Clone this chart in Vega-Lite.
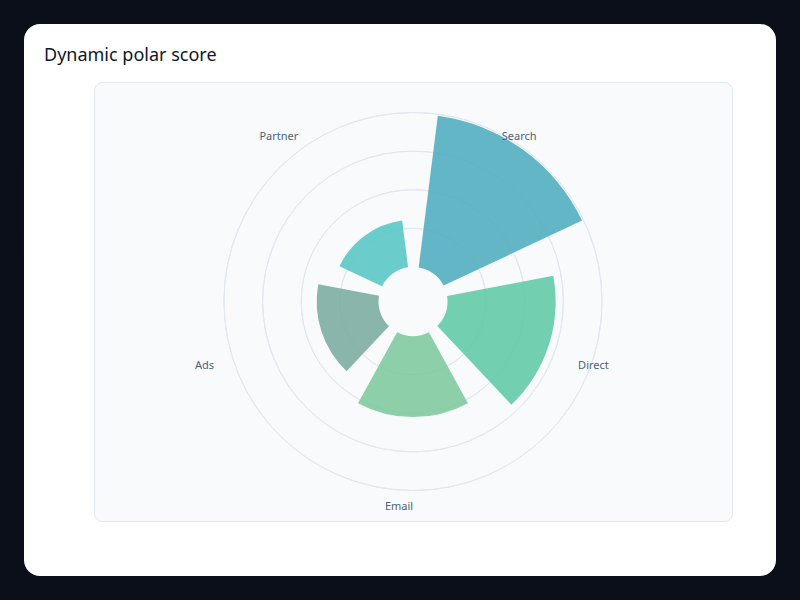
{
  "$schema": "https://vega.github.io/schema/vega-lite/v6.json",
  "background": "#ffffff",
  "autosize": "none",
  "padding": {"left": 94, "top": 82, "right": 68, "bottom": 79},
  "width": 638,
  "height": 439,
  "view": {"fill": "#f8fafc", "stroke": "#e2e8f0", "cornerRadius": 8},
  "config": {"font": "Noto Sans", "legend": {"strokeWidth": 48}},
  "title": {
    "text": "Dynamic polar score",
    "anchor": "start",
    "frame": "group",
    "dx": -50,
    "offset": -98,
    "baseline": "middle",
    "fontSize": 18,
    "fontWeight": "normal",
    "color": "#0f172a",
    "font": "Noto Sans"
  },
  "layer": [
    {
      "data": {"values": [{"r": 25}, {"r": 50}, {"r": 75}, {"r": 100}]},
      "mark": {"type": "arc", "filled": false, "strokeWidth": 1},
      "encoding": {
        "theta": {"value": 0},
        "theta2": {"value": 6.2832},
        "radius": {"field": "r", "type": "quantitative", "scale": {"type": "linear", "domain": [0, 100], "range": [34.5, 189], "zero": true}},
        "radius2": {"field": "r"},
        "stroke": {
          "field": "r",
          "type": "quantitative",
          "scale": {"range": ["#e2e8f0", "#e2e8f0"]},
          "legend": {
            "orient": "none",
            "legendX": -94,
            "legendY": -82,
            "direction": "vertical",
            "gradientLength": 600,
            "gradientThickness": 800,
            "gradientOpacity": 0,
            "gradientStrokeWidth": 0,
            "title": null,
            "padding": 0,
            "labelOffset": 0,
            "labelFontSize": 0,
            "labelExpr": "''",
            "fillColor": null,
            "strokeColor": "#0b0f19",
            "cornerRadius": 40
          }
        }
      }
    },
    {
      "data": {"values": [
        {"channel": "Search", "score": 99},
        {"channel": "Direct", "score": 70},
        {"channel": "Email", "score": 52.5},
        {"channel": "Ads", "score": 40},
        {"channel": "Partner", "score": 30.5}
      ]},
      "layer": [
        {
          "mark": {"type": "arc", "padAngle": 0.014, "opacity": 0.9},
          "encoding": {
            "theta": {"field": "channel", "type": "nominal", "scale": {"type": "band", "domain": ["Search", "Direct", "Email", "Ads", "Partner"], "paddingInner": 0.2, "paddingOuter": 0.1}},
            "radius": {"field": "score", "type": "quantitative"},
            "color": {
              "field": "channel",
              "type": "nominal",
              "legend": null,
              "scale": {"domain": ["Search", "Direct", "Email", "Ads", "Partner"], "range": ["#51aec0", "#63cba9", "#7fca9f", "#7cada1", "#5ac8c6"]}
            }
          }
        },
        {
          "mark": {"type": "text", "fontSize": 11, "color": "#525f75", "dx": -14, "dy": 1, "font": "Noto Sans"},
          "encoding": {
            "theta": {"field": "channel", "type": "nominal", "bandPosition": 0.5},
            "radius": {"datum": 110},
            "text": {"field": "channel"}
          }
        }
      ]
    }
  ]
}
